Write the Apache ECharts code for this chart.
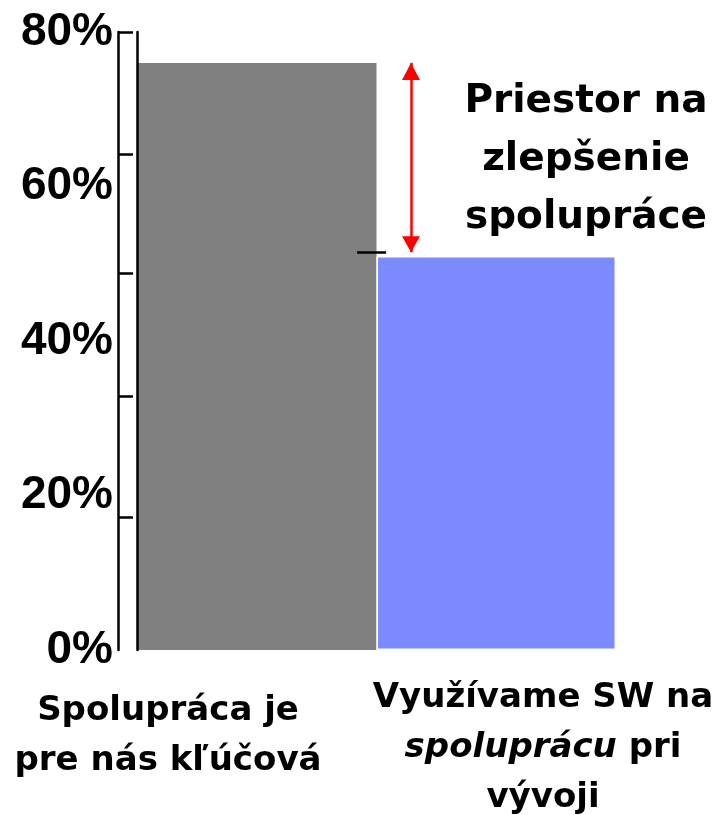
<!DOCTYPE html>
<html><head><meta charset="utf-8">
<script src="https://cdn.jsdelivr.net/npm/echarts@6/dist/echarts.min.js"></script>
<style>html,body{margin:0;padding:0;background:#fff}#c{width:718px;height:815px}</style>
</head><body><div id="c"></div>
<script>
// ---- data ----
const categories = ['Spolupráca je\npre nás kľúčová', 'Využívame SW na\nspoluprácu pri\nvývoji'];
const italicWords = ['spoluprácu'];
const values = [76, 51];
const barColors = ['#808080', '#7b8afc'];
const yLabelValues = [0, 20, 40, 60, 80];
const tickValues = [17.2, 32.9, 48.8, 64.2, 80];
const noteText = 'Priestor na\nzlepšenie\nspolupráce';

// ---- helpers ----
const FONT = 'DejaVu Sans';
function richify(txt) {
  return txt.split('\n').map(line => {
    let parts = [];
    let rest = line;
    italicWords.forEach(w => {
      const i = rest.indexOf(w);
      if (i >= 0) {
        if (i > 0) parts.push('{b|' + rest.slice(0, i) + '}');
        parts.push('{i|' + w + '}');
        rest = rest.slice(i + w.length);
      }
    });
    if (rest.length) parts.push('{b|' + rest + '}');
    return parts.join('');
  }).join('\n');
}
const labelRich = {
  b: { fontFamily: FONT, fontWeight: 'bold', fontSize: 34, lineHeight: 50, color: '#000' },
  i: { fontFamily: FONT, fontWeight: 'bold', fontStyle: 'italic', fontSize: 34, lineHeight: 50, color: '#000' }
};
const labelPos = [{ x: 168, y: 686 }, { x: 543, y: 673 }];

const chart = echarts.init(document.getElementById('c'), null, { renderer: 'canvas' });
const arrowX = 1.144;
const gapLevel = values[1] + 0.5;

chart.setOption({
  backgroundColor: '#fff',
  animation: false,
  title: categories.map((c, k) => ({
    text: richify(c),
    left: labelPos[k].x,
    top: labelPos[k].y,
    padding: 0,
    textAlign: 'center',
    textStyle: { rich: labelRich, fontFamily: FONT, fontWeight: 'bold', fontSize: 34, lineHeight: 50, color: '#000' }
  })).concat([{
    text: noteText,
    left: 586,
    top: 73,
    padding: 0,
    textAlign: 'center',
    textStyle: { fontFamily: FONT, fontWeight: 'bold', fontSize: 39, lineHeight: 58, color: '#000' }
  }]),
  grid: { left: 137, right: 102, top: 32, bottom: 165 },
  xAxis: [
    { type: 'category', data: categories, axisLine: { show: false }, axisTick: { show: false }, axisLabel: { show: false } },
    { type: 'value', min: 0, max: 2, show: false }
  ],
  yAxis: [
    {
      type: 'value', min: 0, max: 80, position: 'left', offset: 19, z: 5,
      axisLine: { show: true, onZero: false, lineStyle: { color: '#000', width: 2.5 } },
      axisTick: { show: true, inside: true, length: 15, customValues: tickValues, lineStyle: { color: '#000', width: 2.5 } },
      axisLabel: { show: false }, splitLine: { show: false }
    },
    {
      type: 'value', min: 0, max: 80, interval: 20, position: 'left', offset: 0, z: 5,
      axisLine: { show: true, onZero: false, lineStyle: { color: '#000', width: 2.5 } },
      axisTick: { show: false },
      axisLabel: { formatter: '{value}%', fontFamily: 'Liberation Sans', fontWeight: 'bold', fontSize: 46, color: '#000', margin: 24,
        customValues: yLabelValues },
      splitLine: { show: false }
    }
  ],
  series: [
    {
      type: 'bar', xAxisIndex: 0, yAxisIndex: 1, barCategoryGap: '0%', barGap: '0%',
      data: values.map((v, k) => ({ value: v, itemStyle: { color: barColors[k], borderColor: k ? '#fff' : barColors[k], borderWidth: k ? 1.5 : 0 } })),
      silent: true
    },
    {
      type: 'line', xAxisIndex: 1, yAxisIndex: 1, data: [], silent: true,
      markLine: {
        silent: true, animation: false,
        label: { show: false },
        data: [
          [{ coord: [arrowX, values[0]], symbol: 'triangle', symbolSize: [18, 17], symbolOffset: [0, 8.5] },
           { coord: [arrowX, gapLevel], symbol: 'triangle', symbolSize: [18, 16], symbolOffset: [0, 8] }],
          [{ coord: [0.919, gapLevel], symbol: 'none', lineStyle: { color: '#000', width: 2.5, type: 'solid' } },
           { coord: [1.04, gapLevel], symbol: 'none' }]
        ],
        lineStyle: { color: '#ff0000', width: 2.5, type: 'solid' }
      }
    }
  ]
});
</script>
</body></html>
